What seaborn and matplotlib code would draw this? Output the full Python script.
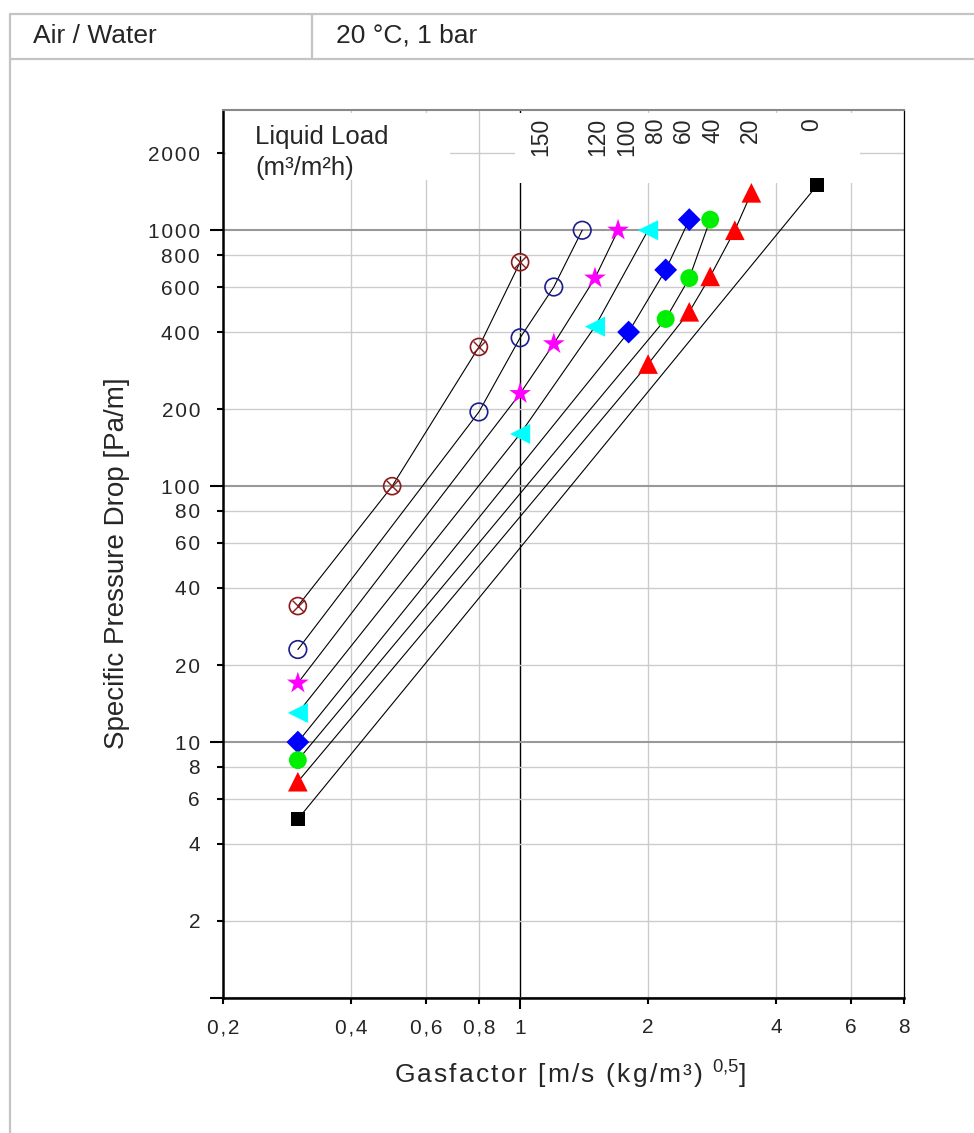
import numpy as np
import pandas as pd
import matplotlib.pyplot as plt
from matplotlib.lines import Line2D
from matplotlib.patches import Rectangle
import seaborn as sns

# liquid loads (m3/m2h) and the measured points of each curve
loads = ['150', '120', '100', '80', '60', '40', '20', '0']

gf_150 = [0.3, 0.5, 0.8, 1.0]
dp_150 = [34, 100, 350, 750]
gf_120 = [0.3, 0.8, 1.0, 1.2, 1.4]
dp_120 = [23, 195, 380, 600, 1000]
gf_100 = [0.3, 1.0, 1.2, 1.5, 1.7]
dp_100 = [17, 230, 360, 650, 1000]
gf_80 = [0.3, 1.0, 1.5, 2.0]
dp_80 = [13, 160, 420, 1000]
gf_60 = [0.3, 1.8, 2.2, 2.5]
dp_60 = [10, 400, 700, 1100]
gf_40 = [0.3, 2.2, 2.5, 2.8]
dp_40 = [8.5, 450, 650, 1100]
gf_20 = [0.3, 2.0, 2.5, 2.8, 3.2, 3.5]
dp_20 = [7, 300, 480, 660, 1000, 1400]
gf_0 = [0.3, 5.0]
dp_0 = [5, 1500]

xticks_minor = [0.2, 0.4, 0.6, 0.8, 2, 4, 6, 8]
xlabels_minor = ['0,2', '0,4', '0,6', '0,8', '2', '4', '6', '8']
yticks_major = [1, 10, 100, 1000]
ylabels_major = ['', '10', '100', '1000']
yticks_minor = [2, 4, 6, 8, 20, 40, 60, 80, 200, 400, 600, 800, 2000]
ylabels_minor = ['2', '4', '6', '8', '20', '40', '60', '80', '200', '400', '600', '800', '2000']

series = {
    '150': (gf_150, dp_150),
    '120': (gf_120, dp_120),
    '100': (gf_100, dp_100),
    '80': (gf_80, dp_80),
    '60': (gf_60, dp_60),
    '40': (gf_40, dp_40),
    '20': (gf_20, dp_20),
    '0': (gf_0, dp_0),
}

# marker look per curve
styles = {
    '150': dict(marker='o', s=150, facecolor='none', edgecolor='#8B1A1A', linewidth=1.2),
    '120': dict(marker='o', s=160, facecolor='none', edgecolor='#1C1C8C', linewidth=1.2),
    '100': dict(marker='*', s=270, color='#FF00FF', edgecolor='none'),
    '80': dict(marker='<', s=210, color='#00FFFF', edgecolor='none'),
    '60': dict(marker='D', s=135, color='#0000FF', edgecolor='none'),
    '40': dict(marker='o', s=165, color='#00EE00', edgecolor='none'),
    '20': dict(marker='^', s=200, color='#FF0000', edgecolor='none'),
    '0': dict(marker='s', s=105, color='#000000', edgecolor='none'),
}

# where the load numbers sit above the curves
load_label_x = [1.12, 1.525, 1.785, 2.08, 2.42, 2.85, 3.48, 4.86]


def spaced(s):
    # the original chart uses slightly tracked text
    return '\u200a'.join(s)


sns.set_style('white')
plt.rcParams['font.family'] = ['Liberation Sans', 'DejaVu Sans']
plt.rcParams['mathtext.fontset'] = 'custom'
plt.rcParams['mathtext.rm'] = 'Liberation Sans'

W, H = 974, 1133
fig = plt.figure(figsize=(W / 100, H / 100), dpi=100)
ax = fig.add_axes([223 / W, 1 - 998 / H, 681 / W, 888 / H])
ax.set_xscale('log')
ax.set_yscale('log')

for name in loads:
    gx, dy = series[name]
    df = pd.DataFrame({'gf': gx, 'dp': dy})
    sns.lineplot(data=df, x='gf', y='dp', sort=False, estimator=None, color='black',
                 linewidth=0.8, ax=ax, zorder=4)
    sns.scatterplot(data=df, x='gf', y='dp', ax=ax, zorder=5, legend=False, **styles[name])
    if name == '150':
        sns.scatterplot(data=df, x='gf', y='dp', ax=ax, zorder=6, legend=False,
                        marker='x', s=70, color='#8B1A1A', linewidth=1.0)

ax.set_xlim(0.2, 8)
ax.set_ylim(1, 2950)

ax.set_xticks([1], labels=['1'])
ax.set_xticks(xticks_minor, labels=[spaced(t) for t in xlabels_minor], minor=True)
ax.set_yticks(yticks_major, labels=[spaced(t) for t in ylabels_major])
ax.set_yticks(yticks_minor, labels=[spaced(t) for t in ylabels_minor], minor=True)

ax.tick_params(axis='both', which='both', labelsize=15, color='black', width=1.5,
               direction='out')
ax.tick_params(axis='y', which='major', length=9.5, pad=7)
ax.tick_params(axis='y', which='minor', length=4.5, pad=12)
ax.tick_params(axis='x', which='major', length=8, pad=7)
ax.tick_params(axis='x', which='minor', length=4.5, pad=10)
ax.tick_params(left=True, bottom=True, which='both')

ax.set_axisbelow(True)
ax.xaxis.grid(True, which='major', color='black', linewidth=1.0)
ax.xaxis.grid(True, which='minor', color='#cccccc', linewidth=1.0)
ax.yaxis.grid(True, which='major', color='#999999', linewidth=1.5)
ax.yaxis.grid(True, which='minor', color='#cccccc', linewidth=1.0)

ax.spines['left'].set_linewidth(1.8)
ax.spines['bottom'].set_linewidth(1.8)
ax.spines['right'].set_linewidth(0.9)
ax.spines['right'].set_color('black')
ax.spines['top'].set_linewidth(1.5)
ax.spines['top'].set_color('#888888')
for sp in ['left', 'bottom']:
    ax.spines[sp].set_color('black')

ax.set_xlabel(spaced('Gasfactor [m/s (kg/m³) ') + r'$\mathregular{^{0{,}5}}$]', fontsize=19)
ax.set_ylabel('Specific Pressure Drop [Pa/m]', fontsize=20)
ax.xaxis.set_label_coords(0.51, -0.069)
ax.yaxis.set_label_coords(-0.136, 0.49)

# white boxes that hide the grid behind the legend texts
box1 = Rectangle((0.004, 0.921), 0.329, 0.076, transform=ax.transAxes,
                 facecolor='white', edgecolor='none', zorder=3)
box2 = Rectangle((0.429, 0.918), 0.506, 0.079, transform=ax.transAxes,
                 facecolor='white', edgecolor='none', zorder=3)
ax.add_patch(box1)
ax.add_patch(box2)

ll = ax.text(0.047, 0.983, 'Liquid Load\n(m³/m²h)', transform=ax.transAxes,
             fontsize=18.5, va='top', ha='left', linespacing=1.35, zorder=7)
ll.set_clip_path(box1)

for lab, lx in zip(loads, load_label_x):
    ax.text(lx, 0.991, lab, transform=ax.get_xaxis_transform(), rotation=90,
            fontsize=16.5, va='top', ha='center', zorder=7)

# table frame around the chart
frame = '#c4c4c4'
fig.add_artist(Line2D([10 / W, 1], [1 - 14 / H, 1 - 14 / H], color=frame, lw=1.6))
fig.add_artist(Line2D([10 / W, 1], [1 - 59 / H, 1 - 59 / H], color=frame, lw=1.6))
fig.add_artist(Line2D([312 / W, 312 / W], [1 - 14 / H, 1 - 59 / H], color=frame, lw=1.6))
fig.add_artist(Line2D([10 / W, 10 / W], [1 - 14 / H, 0], color=frame, lw=1.6))
fig.text(33 / W, 1 - 36 / H, 'Air / Water', fontsize=19, va='center', ha='left')
fig.text(336 / W, 1 - 36 / H, '20 °C, 1 bar', fontsize=19, va='center', ha='left')

fig.savefig('out.png', dpi=100)
